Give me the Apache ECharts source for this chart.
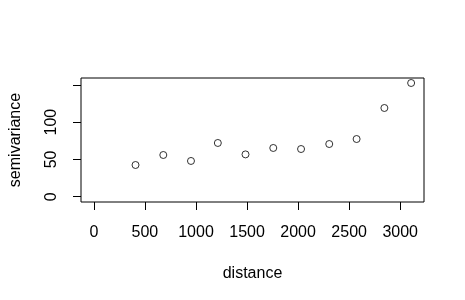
<!DOCTYPE html>
<html><head><meta charset="utf-8">
<script src="https://cdn.jsdelivr.net/npm/echarts@6/dist/echarts.min.js"></script>
<style>html,body{margin:0;padding:0;background:#fff}#c{width:465px;height:300px}</style>
</head><body><div id="c"></div>
<script>
var distance = [408, 680, 951, 1214, 1485, 1757, 2029, 2305, 2573, 2845, 3107];
var semivariance = [42.5, 55.9, 47.9, 72.0, 56.7, 65.3, 63.9, 70.6, 77.3, 118.9, 152.4];
var xTicks = [0, 500, 1000, 1500, 2000, 2500, 3000];
var yTicks = [0, 50, 100, 150];
var yLabels = [0, 50, 100];

var font = 'Liberation Sans, Arial, sans-serif';
var chart = echarts.init(document.getElementById('c'), null, {renderer: 'canvas'});
chart.setOption({
  animation: false,
  backgroundColor: '#fff',
  grid: {left: 78, top: 78, width: 346, height: 124, show: true, borderColor: '#000', borderWidth: 1, backgroundColor: 'transparent'},
  xAxis: {
    type: 'value', min: -126, max: 3233,
    name: 'distance', nameLocation: 'middle', nameGap: 64,
    nameTextStyle: {fontFamily: font, fontSize: 16, color: '#000'},
    axisLine: {show: false, onZero: false},
    splitLine: {show: false},
    axisTick: {show: true, inside: false, length: 8, lineStyle: {color: '#000', width: 1}, customValues: xTicks},
    axisLabel: {fontFamily: font, fontSize: 16, color: '#000', margin: 23, customValues: xTicks, formatter: function (v) { return String(v); }}
  },
  yAxis: {
    type: 'value', min: -7.1, max: 159.1,
    name: 'semivariance', nameLocation: 'middle', nameGap: 57,
    nameTextStyle: {fontFamily: font, fontSize: 16, color: '#000'},
    axisLine: {show: false, onZero: false},
    splitLine: {show: false},
    axisTick: {show: true, inside: false, length: 8, lineStyle: {color: '#000', width: 1}, customValues: yTicks},
    axisLabel: {fontFamily: font, fontSize: 16, color: '#000', margin: 21, rotate: 90, align: 'center', verticalAlign: 'bottom', customValues: yLabels, formatter: function (v) { return String(v); }}
  },
  series: [{
    type: 'scatter',
    data: distance.map(function (d, i) { return [d, semivariance[i]]; }),
    symbol: 'circle', symbolSize: 7,
    itemStyle: {color: 'transparent', borderColor: '#000', borderWidth: 1},
    silent: true
  }]
});
</script></body></html>
